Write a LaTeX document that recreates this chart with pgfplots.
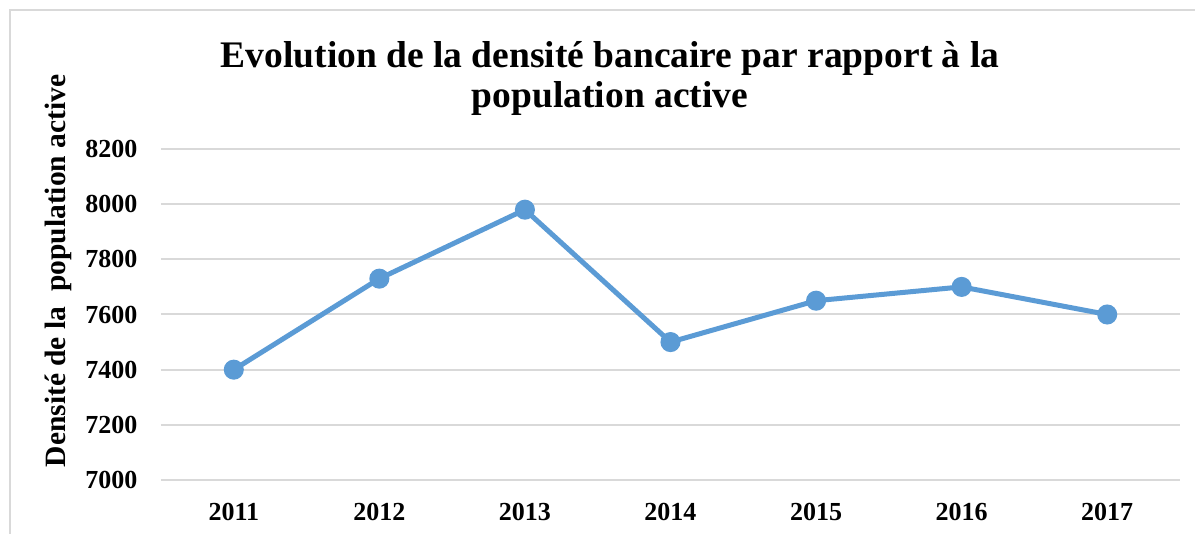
\documentclass[border=0pt]{standalone}
\usepackage{fontspec}
\setmainfont{Liberation Serif}
\usepackage{pgfplots}
\pgfplotsset{compat=1.18}
\definecolor{lineblue}{RGB}{91,155,213}
\definecolor{gridgray}{RGB}{217,217,217}
\begin{document}
\begin{tikzpicture}[x=1pt,y=1pt]
\path[use as bounding box] (0,0) rectangle (1195,534);
\begin{scope}
\clip (0,0) rectangle (1195,534);
\draw[gridgray,line width=2pt] (10,524) rectangle (1210,-20);
\end{scope}
\node[font=\fontsize{37.5}{40}\selectfont\bfseries,align=center,anchor=north] at (610,496)
  {Evolution de la densité bancaire par rapport à la\\population active};
\node[font=\fontsize{29.5}{32}\selectfont\bfseries,rotate=90] at (58,263)
  {Densité de la \ population active};
\begin{axis}[
  at={(161pt,54pt)},anchor=south west,
  scale only axis,
  width=1019pt,height=331pt,
  xmin=-0.5,xmax=6.5,
  ymin=7000,ymax=8200,
  ytick={7000,7200,...,8200},
  xtick={0,...,6},
  xticklabels={2011,2012,2013,2014,2015,2016,2017},
  axis line style={draw=none},
  major tick length=0pt,
  ymajorgrids,
  grid style={gridgray,line width=2pt},
  tick label style={font=\fontsize{26}{30}\selectfont\bfseries},
  /pgf/number format/assume math mode=true,
  /pgf/number format/1000 sep={},
  yticklabel style={xshift=-20pt},
  xticklabel style={yshift=-20pt},
]
\addplot[lineblue,line width=5pt,mark=*,mark size=7.5pt,mark options={fill=lineblue,draw=none}] coordinates {
  (0,7400) (1,7730) (2,7980) (3,7500) (4,7650) (5,7700) (6,7600)
};
\end{axis}
\end{tikzpicture}
\end{document}
